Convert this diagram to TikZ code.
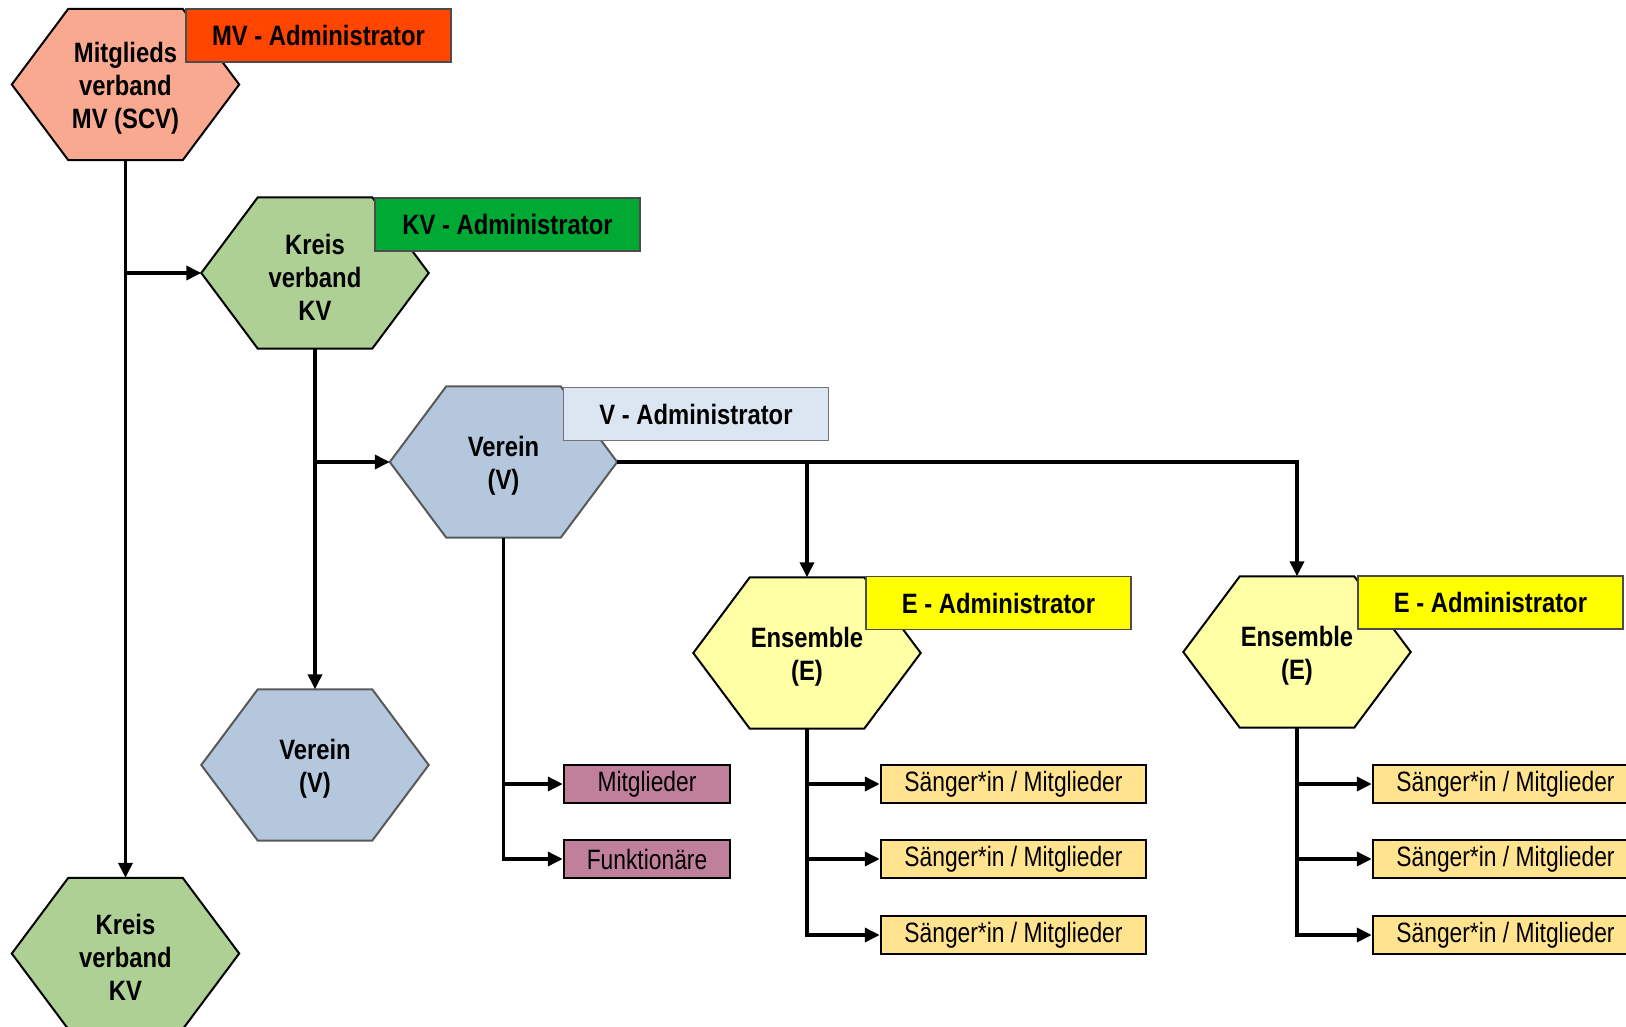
\documentclass[tikz,border=0pt]{standalone}
\usepackage{fontspec}
\setmainfont{Liberation Sans}[FakeStretch=0.815,BoldFeatures={FakeStretch=0.85}]
\usetikzlibrary{arrows.meta,calc}
\pgfdeclarelayer{bg}
\pgfsetlayers{bg,main}
\definecolor{mvfill}{HTML}{FAA991}
\definecolor{kvfill}{HTML}{AFD095}
\definecolor{vfill}{HTML}{B4C7DC}
\definecolor{efill}{HTML}{FFFFA6}
\definecolor{mvadm}{HTML}{FF4500}
\definecolor{kvadm}{HTML}{00A933}
\definecolor{vadm}{HTML}{DCE6F2}
\definecolor{eadm}{HTML}{FFFF00}
\definecolor{mauve}{HTML}{C0809C}
\definecolor{gold}{HTML}{FFE38F}
\tikzset{
  hexnode/.style={minimum width=227pt,minimum height=151pt,inner sep=0pt},
  hextext/.style={inner sep=0pt,align=center,font=\fontsize{28}{33}\selectfont\bfseries},
  admin/.style={draw=black!70,line width=1.2pt,minimum width=265pt,minimum height=53pt,
    inner sep=0pt,font=\fontsize{28}{33}\selectfont\bfseries},
  leaf/.style={draw=black,line width=2.5pt,minimum height=38pt,inner sep=0pt,
    font=\fontsize{28}{33}\selectfont},
  conn/.style={line width=3.5pt},
  arr/.style={conn,-{Triangle[length=15pt,width=14pt]}},
  hexline/.style={line width=2pt,line join=miter}
}
% name, position, fill, border, text
\newcommand\hexagonnode[5]{%
  \node[hexnode] (#1) at (#2) {};
  \begin{pgfonlayer}{bg}
  \filldraw[hexline,fill=#3,draw=#4] (#1.west) -- ([xshift=56.5pt]#1.north west)
    -- ([xshift=-56.5pt]#1.north east) -- (#1.east) -- ([xshift=-56.5pt]#1.south east)
    -- ([xshift=56.5pt]#1.south west) -- cycle;
  \end{pgfonlayer}
  \node[hextext] (#1-text) at ([yshift=-4pt]#1.center) {#5};}
\begin{document}
\begin{tikzpicture}[x=1pt,y=-1pt]
\useasboundingbox (0,0) rectangle (1626,1027);

% hexagon nodes
\hexagonnode{mv}{125.5,84.5}{mvfill}{black}{Mitglieds\\verband\\MV (SCV)}
\hexagonnode{kv1}{315,273}{kvfill}{black}{Kreis\\verband\\KV}
\hexagonnode{v1}{503.5,462}{vfill}{black!65}{Verein\\(V)}
\hexagonnode{v2}{315,765}{vfill}{black!65}{Verein\\(V)}
\hexagonnode{kv2}{125.5,953.5}{kvfill}{black}{Kreis\\verband\\KV}
\hexagonnode{e1}{807,653}{efill}{black}{Ensemble\\(E)}
\hexagonnode{e2}{1297,652}{efill}{black}{Ensemble\\(E)}

% administrator boxes
\node[admin,fill=mvadm] (amv) at (318.5,35.5) {MV - Administrator};
\node[admin,fill=kvadm] (akv) at (507.5,224.5) {KV - Administrator};
\node[admin,fill=vadm,draw=black!55] (av) at (696,414) {V - Administrator};
\node[admin,fill=eadm] (ae1) at (998.5,603) {E - Administrator};
\node[admin,fill=eadm] (ae2) at (1490.5,602.5) {E - Administrator};

% leaf boxes
\node[leaf,fill=mauve,minimum width=166pt] (mit) at (647,784) {Mitglieder};
\node[leaf,fill=mauve,minimum width=166pt] (fun) at (647,859) {Funktionäre};
\node[leaf,fill=gold,minimum width=265pt] (s11) at (1013.5,784) {Sänger*in / Mitglieder};
\node[leaf,fill=gold,minimum width=265pt] (s12) at (1013.5,859) {Sänger*in / Mitglieder};
\node[leaf,fill=gold,minimum width=265pt] (s13) at (1013.5,935) {Sänger*in / Mitglieder};
\node[leaf,fill=gold,minimum width=265pt] (s21) at (1505.5,784) {Sänger*in / Mitglieder};
\node[leaf,fill=gold,minimum width=265pt] (s22) at (1505.5,859) {Sänger*in / Mitglieder};
\node[leaf,fill=gold,minimum width=265pt] (s23) at (1505.5,935) {Sänger*in / Mitglieder};

% connectors
\draw[arr] (mv.south) -- (kv2.north);
\draw[arr] (mv.south |- kv1.west) -- (kv1.west);
\draw[arr] (kv1.south) -- (v2.north);
\draw[arr] (kv1.south |- v1.west) -- (v1.west);
\draw[arr] (v1.east) -| (e2.north);
\draw[arr] (v1.east -| e1.north) -- (e1.north);
\draw[arr] (v1.south) |- (mit.west);
\draw[arr] (v1.south) |- (fun.west);
\draw[arr] (e1.south) |- (s11.west);
\draw[arr] (e1.south) |- (s12.west);
\draw[arr] (e1.south) |- (s13.west);
\draw[arr] (e2.south) |- (s21.west);
\draw[arr] (e2.south) |- (s22.west);
\draw[arr] (e2.south) |- (s23.west);
\end{tikzpicture}
\end{document}
